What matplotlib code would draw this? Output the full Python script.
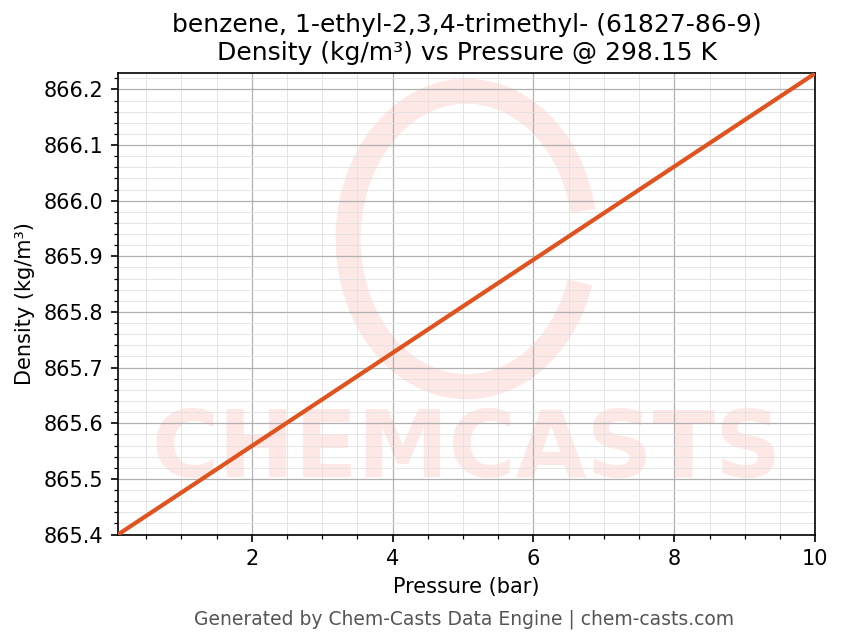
import matplotlib
matplotlib.use("Agg")
import matplotlib.pyplot as plt
from matplotlib.ticker import AutoMinorLocator
from matplotlib.patches import Arc

# data
pressure = [0.1, 10.0]
density = [865.4, 866.229]

fig, ax = plt.subplots(figsize=(843 / 150, 644 / 150), dpi=150)

# faint watermark
ax.text(0.5, 0.18, "CHEMCASTS", transform=ax.transAxes, ha="center", va="center",
        fontsize=44, fontweight="bold", color="#fde8e5", zorder=0, clip_on=True)
ax.add_patch(Arc((0.5, 0.64), 0.34, 0.64, transform=ax.transAxes, theta1=20, theta2=330,
                 lw=12, color="#fde8e5", zorder=0))

ax.plot(pressure, density, color="#e0531f", lw=2, zorder=3)

ax.set_xlim(0.1, 10)
ax.set_ylim(865.4, 866.23)
ax.xaxis.set_minor_locator(AutoMinorLocator(4))
ax.yaxis.set_minor_locator(AutoMinorLocator(5))
ax.grid(True, which="major", color="#b0b0b0", lw=0.6)
ax.grid(True, which="minor", color="#e0e0e0", lw=0.4)
ax.set_axisbelow(True)
ax.yaxis.set_major_formatter(matplotlib.ticker.FormatStrFormatter("%.1f"))

ax.set_xlabel("Pressure (bar)")
ax.set_ylabel("Density (kg/m³)")
ax.set_title("benzene, 1-ethyl-2,3,4-trimethyl- (61827-86-9)\nDensity (kg/m³) vs Pressure @ 298.15 K")
fig.text(0.55, 0.03, "Generated by Chem-Casts Data Engine | chem-casts.com",
         ha="center", fontsize=9, color="#555555")

fig.subplots_adjust(left=0.14, right=0.967, top=0.887, bottom=0.17)
fig.savefig("out.png", dpi=150)
